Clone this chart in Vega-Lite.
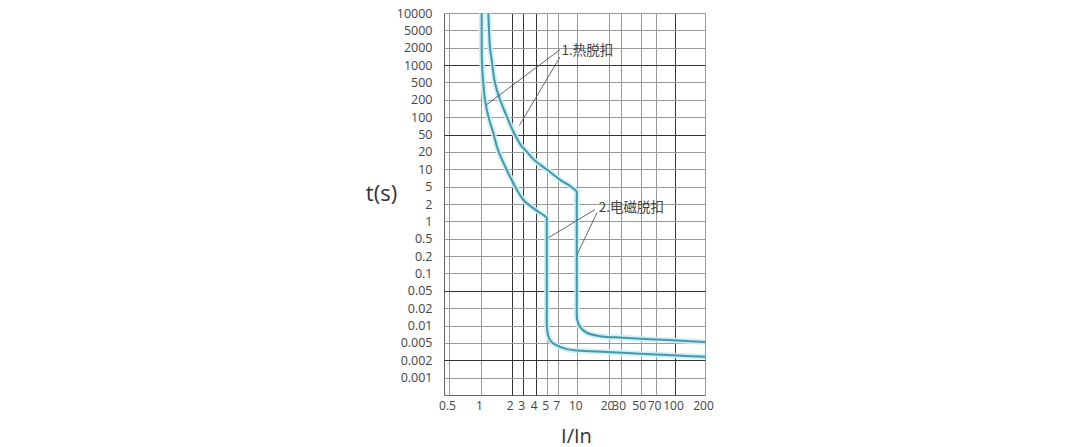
{
  "$schema": "https://vega.github.io/schema/vega-lite/v6.json",
  "autosize": {"type": "none"},
  "padding": {"left": 444, "top": 13, "right": 375, "bottom": 52},
  "width": 261,
  "height": 382,
  "background": "white",
  "datasets": {
    "curves": [
      {"curve": "1", "seq": 1, "I": 1.016, "t": 10000},
      {"curve": "1", "seq": 2, "I": 1.016, "t": 3000},
      {"curve": "1", "seq": 3, "I": 1.02, "t": 1240},
      {"curve": "1", "seq": 4, "I": 1.053, "t": 486},
      {"curve": "1", "seq": 5, "I": 1.094, "t": 203},
      {"curve": "1", "seq": 6, "I": 1.179, "t": 104},
      {"curve": "1", "seq": 7, "I": 1.32, "t": 53.4},
      {"curve": "1", "seq": 8, "I": 1.46, "t": 23},
      {"curve": "1", "seq": 9, "I": 1.72, "t": 11.3},
      {"curve": "1", "seq": 10, "I": 2.11, "t": 5.8},
      {"curve": "1", "seq": 11, "I": 3.0, "t": 2.5},
      {"curve": "1", "seq": 12, "I": 3.96, "t": 1.6},
      {"curve": "1", "seq": 13, "I": 4.8, "t": 1.23},
      {"curve": "1", "seq": 14, "I": 4.95, "t": 1.16},
      {"curve": "1", "seq": 15, "I": 4.95, "t": 1.0},
      {"curve": "1", "seq": 16, "I": 4.95, "t": 0.02},
      {"curve": "1", "seq": 17, "I": 4.95, "t": 0.0105},
      {"curve": "1", "seq": 18, "I": 5.0, "t": 0.0082},
      {"curve": "1", "seq": 19, "I": 5.15, "t": 0.0066},
      {"curve": "1", "seq": 20, "I": 5.6, "t": 0.0053},
      {"curve": "1", "seq": 21, "I": 6.3, "t": 0.0046},
      {"curve": "1", "seq": 22, "I": 8.2, "t": 0.0036},
      {"curve": "1", "seq": 23, "I": 10, "t": 0.00337},
      {"curve": "1", "seq": 24, "I": 19, "t": 0.0031},
      {"curve": "1", "seq": 25, "I": 49.5, "t": 0.00283},
      {"curve": "1", "seq": 26, "I": 96, "t": 0.00259},
      {"curve": "1", "seq": 27, "I": 200, "t": 0.0024},
      {"curve": "2", "seq": 1, "I": 1.18, "t": 10000},
      {"curve": "2", "seq": 2, "I": 1.198, "t": 5000},
      {"curve": "2", "seq": 3, "I": 1.225, "t": 2000},
      {"curve": "2", "seq": 4, "I": 1.273, "t": 1240},
      {"curve": "2", "seq": 5, "I": 1.372, "t": 486},
      {"curve": "2", "seq": 6, "I": 1.535, "t": 203},
      {"curve": "2", "seq": 7, "I": 1.787, "t": 104},
      {"curve": "2", "seq": 8, "I": 2.11, "t": 57},
      {"curve": "2", "seq": 9, "I": 2.83, "t": 26.9},
      {"curve": "2", "seq": 10, "I": 3.12, "t": 22.6},
      {"curve": "2", "seq": 11, "I": 3.83, "t": 14.7},
      {"curve": "2", "seq": 12, "I": 4.95, "t": 9.9},
      {"curve": "2", "seq": 13, "I": 7.2, "t": 6.6},
      {"curve": "2", "seq": 14, "I": 8.75, "t": 5.1},
      {"curve": "2", "seq": 15, "I": 9.9, "t": 3.8},
      {"curve": "2", "seq": 16, "I": 9.9, "t": 3.2},
      {"curve": "2", "seq": 17, "I": 9.9, "t": 0.03},
      {"curve": "2", "seq": 18, "I": 9.9, "t": 0.0178},
      {"curve": "2", "seq": 19, "I": 9.95, "t": 0.013},
      {"curve": "2", "seq": 20, "I": 10.6, "t": 0.0095},
      {"curve": "2", "seq": 21, "I": 12.3, "t": 0.0075},
      {"curve": "2", "seq": 22, "I": 16.4, "t": 0.00655},
      {"curve": "2", "seq": 23, "I": 32, "t": 0.00615},
      {"curve": "2", "seq": 24, "I": 70.5, "t": 0.00574},
      {"curve": "2", "seq": 25, "I": 141, "t": 0.00536},
      {"curve": "2", "seq": 26, "I": 200, "t": 0.0052}
    ],
    "leaders": [
      {"id": "a", "seq": 1, "I": 1.137, "t": 165},
      {"id": "a", "seq": 2, "I": 7.23, "t": 1853},
      {"id": "b", "seq": 1, "I": 2.61, "t": 71.5},
      {"id": "b", "seq": 2, "I": 7.23, "t": 1384},
      {"id": "c", "seq": 1, "I": 5.15, "t": 0.518},
      {"id": "c", "seq": 2, "I": 14.7, "t": 1.6},
      {"id": "d", "seq": 1, "I": 9.98, "t": 0.218},
      {"id": "d", "seq": 2, "I": 15.4, "t": 1.42}
    ],
    "notes": [
      {"label": "1.热脱扣", "I": 7.3, "t": 1730},
      {"label": "2.电磁脱扣", "I": 15.6, "t": 1.72}
    ]
  },
  "encoding": {
    "x": {
      "field": "I",
      "type": "quantitative",
      "scale": {
        "type": "log",
        "domain": [0.45, 0.5, 1, 2, 3, 4, 5, 7, 10, 20, 30, 50, 70, 100, 200],
        "range": [0, 5, 37, 67.7, 79.3, 91.7, 103.3, 114.3, 133.3, 165, 176.7, 196.7, 212, 231, 261],
        "nice": false
      },
      "axis": {
        "title": "I/In",
        "values": [0.5, 1, 2, 3, 4, 5, 7, 10, 20, 30, 50, 70, 100, 200],
        "format": "~g",
        "grid": true,
        "gridColor": {
          "condition": {"test": "datum.value == 2 || datum.value == 3 || datum.value == 4 || datum.value == 100", "value": "#333"},
          "value": "#9a9a9a"
        },
        "gridWidth": 1,
        "ticks": false,
        "domain": false,
        "labelOverlap": false,
        "labelBound": false,
        "labelFlush": false,
        "labelFont": "Open Sans",
        "labelFontSize": 12,
        "labelColor": "#444",
        "labelPadding": 5,
        "labelOffset": -2,
        "titleFont": "Open Sans",
        "titleFontSize": 20,
        "titleFontWeight": "normal",
        "titleColor": "#333",
        "titleX": 132,
        "titleY": 41,
        "titleAlign": "center",
        "titleBaseline": "middle"
      }
    },
    "y": {
      "field": "t",
      "type": "quantitative",
      "scale": {
        "type": "log",
        "domain": [0.0005, 0.001, 0.002, 0.005, 0.01, 0.02, 0.05, 0.1, 0.2, 0.5, 1, 2, 5, 10, 20, 50, 100, 200, 500, 1000, 2000, 5000, 10000],
        "range": [382, 364.64, 347.27, 329.91, 312.55, 295.18, 277.82, 260.45, 243.09, 225.73, 208.36, 191, 173.64, 156.27, 138.91, 121.55, 104.18, 86.82, 69.45, 52.09, 34.73, 17.36, 0],
        "nice": false
      },
      "axis": {
        "title": "t(s)",
        "values": [0.001, 0.002, 0.005, 0.01, 0.02, 0.05, 0.1, 0.2, 0.5, 1, 2, 5, 10, 20, 50, 100, 200, 500, 1000, 2000, 5000, 10000],
        "format": "~g",
        "grid": true,
        "gridColor": {
          "condition": {"test": "datum.value == 50 || datum.value == 0.05 || datum.value == 0.002 || datum.value == 1000", "value": "#333"},
          "value": "#9a9a9a"
        },
        "gridWidth": 1,
        "ticks": false,
        "domain": false,
        "labelOverlap": false,
        "labelBound": false,
        "labelFlush": false,
        "labelFont": "Open Sans",
        "labelFontSize": 12.5,
        "labelColor": "#444",
        "labelPadding": 12,
        "titleFont": "Open Sans",
        "titleFontSize": 22,
        "titleFontWeight": "normal",
        "titleColor": "#333",
        "titleAngle": 0,
        "titleX": -63,
        "titleY": 180,
        "titleAlign": "center",
        "titleBaseline": "middle"
      }
    }
  },
  "layer": [
    {
      "data": {"name": "curves"},
      "mark": {"type": "line", "color": "#c6eef7", "strokeWidth": 5.5, "opacity": 0.9, "interpolate": "catmull-rom"},
      "encoding": {
        "detail": {"field": "curve", "type": "nominal"},
        "order": {"field": "seq", "type": "quantitative"}
      }
    },
    {
      "data": {"name": "curves"},
      "mark": {"type": "line", "color": "#4896a8", "strokeWidth": 2, "interpolate": "catmull-rom"},
      "encoding": {
        "detail": {"field": "curve", "type": "nominal"},
        "order": {"field": "seq", "type": "quantitative"}
      }
    },
    {
      "data": {"name": "leaders"},
      "mark": {"type": "line", "color": "#555", "strokeWidth": 0.9},
      "encoding": {
        "detail": {"field": "id", "type": "nominal"},
        "order": {"field": "seq", "type": "quantitative"}
      }
    },
    {
      "data": {"name": "notes"},
      "mark": {"type": "text", "align": "left", "baseline": "middle", "dx": 1, "font": "Noto Sans CJK SC", "fontSize": 13.5, "color": "#444"},
      "encoding": {
        "text": {"field": "label", "type": "nominal"}
      }
    }
  ],
  "config": {
    "view": {"stroke": "#666", "strokeWidth": 1}
  }
}
